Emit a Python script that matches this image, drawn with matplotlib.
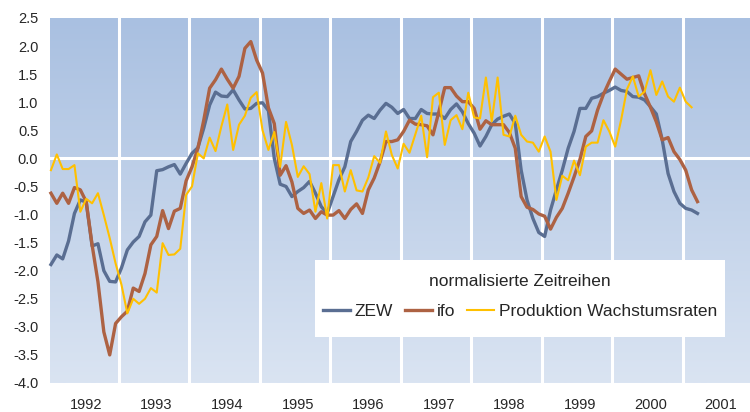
import numpy as np
import matplotlib
matplotlib.use("Agg")
import matplotlib.pyplot as plt
from matplotlib.colors import LinearSegmentedColormap
from matplotlib.patches import Rectangle

plt.rcParams['font.family'] = ['Liberation Sans', 'DejaVu Sans']

# monatliche Werte ab Januar 1992
start_year = 1992

zew = [-1.89, -1.72, -1.79, -1.47, -0.98, -0.74, -0.78, -1.56, -1.52, -2.00,
       -2.19, -2.20, -1.95, -1.63, -1.49, -1.39, -1.13, -1.01, -0.22, -0.20,
       -0.15, -0.11, -0.28, -0.09, 0.09, 0.19, 0.54, 0.95, 1.18, 1.11,
       1.10, 1.22, 1.04, 0.88, 0.89, 0.98, 0.99, 0.85, 0.00, -0.46,
       -0.50, -0.68, -0.59, -0.52, -0.41, -0.62, -0.86, -0.98, -0.68, -0.38,
       -0.15, 0.30, 0.48, 0.68, 0.77, 0.71, 0.86, 0.98, 0.91, 0.80,
       0.87, 0.71, 0.71, 0.87, 0.80, 0.79, 0.79, 0.71, 0.87, 0.97,
       0.83, 0.62, 0.45, 0.22, 0.39, 0.60, 0.70, 0.75, 0.79, 0.62,
       -0.21, -0.74, -1.07, -1.32, -1.39, -0.92, -0.56, -0.21, 0.18, 0.48,
       0.89, 0.89, 1.07, 1.10, 1.16, 1.21, 1.27, 1.21, 1.19, 1.10,
       1.09, 1.04, 0.92, 0.79, 0.33, -0.27, -0.59, -0.80, -0.89, -0.92,
       -0.98]

ifo = [-0.62, -0.80, -0.62, -0.80, -0.52, -0.56, -0.77, -1.54, -2.20, -3.09,
       -3.50, -2.94, -2.82, -2.72, -2.31, -2.37, -2.05, -1.54, -1.39, -0.93,
       -1.25, -0.94, -0.89, -0.40, -0.15, 0.18, 0.68, 1.25, 1.40, 1.59,
       1.41, 1.25, 1.46, 1.96, 2.08, 1.75, 1.52, 0.90, 0.62, -0.30,
       -0.13, -0.42, -0.89, -0.98, -0.92, -1.07, -0.95, -1.01, -1.01, -0.93,
       -1.07, -0.91, -0.81, -0.98, -0.56, -0.35, -0.06, 0.30, 0.30, 0.33,
       0.48, 0.68, 0.61, 0.60, 0.58, 0.42, 0.83, 1.26, 1.26, 1.11,
       1.01, 1.01, 0.89, 0.52, 0.67, 0.60, 0.60, 0.60, 0.46, 0.18,
       -0.68, -0.87, -0.91, -0.99, -1.03, -1.26, -1.05, -0.89, -0.62, -0.33,
       -0.02, 0.39, 0.49, 0.86, 1.14, 1.37, 1.59, 1.50, 1.41, 1.44,
       1.47, 1.15, 0.91, 0.65, 0.33, 0.37, 0.12, -0.02, -0.21, -0.56,
       -0.77]

produktion = [-0.21, 0.07, -0.19, -0.19, -0.12, -0.95, -0.72, -0.80, -0.62, -1.01,
              -1.42, -1.87, -2.25, -2.76, -2.50, -2.59, -2.50, -2.31, -2.39, -1.51,
              -1.72, -1.71, -1.61, -0.65, -0.50, 0.09, 0.00, 0.37, 0.13, 0.57,
              0.96, 0.15, 0.60, 0.76, 1.08, 1.18, 0.50, 0.15, 0.47, -0.15,
              0.65, 0.24, -0.33, -0.14, -0.28, -0.95, -0.44, -1.07, -0.12, -0.12,
              -0.59, -0.21, -0.57, -0.59, -0.34, 0.04, -0.08, 0.48, 0.06, -0.18,
              0.26, 0.10, 0.43, 0.76, 0.02, 1.09, 1.17, 0.24, 0.68, 0.77,
              0.52, 1.17, 0.73, 0.71, 1.44, 0.66, 1.44, 0.42, 0.39, 0.76,
              0.42, 0.30, 0.28, 0.12, 0.39, 0.12, -0.74, -0.31, -0.39, -0.04,
              -0.30, 0.21, 0.28, 0.28, 0.68, 0.48, 0.21, 0.68, 1.23, 1.46,
              1.10, 1.19, 1.57, 1.13, 1.37, 1.10, 1.01, 1.26, 1.01, 0.91]

series_names = ['ZEW', 'ifo', 'Produktion Wachstumsraten']
years = list(range(1992, 2002))
y_ticks = np.arange(-4.0, 2.51, 0.5)


def month_axis(values):
    return start_year + (np.arange(len(values)) + 0.5) / 12


fig = plt.figure(figsize=(7.5, 4.12), dpi=100)
ax = fig.add_axes([48 / 750, 29 / 412, 702 / 750, 365 / 412])

x_min, x_max = 1992.024, 2001.953
y_min, y_max = -4.0, 2.5
ax.set_xlim(x_min, x_max)
ax.set_ylim(y_min, y_max)

# Hintergrund mit Verlauf
cmap = LinearSegmentedColormap.from_list('bg', ['#dae4f2', '#a9c0e1'])
grad = np.linspace(0, 1, 256).reshape(-1, 1)
ax.imshow(grad, extent=[x_min, x_max, y_min, y_max], origin='lower',
          aspect='auto', cmap=cmap, zorder=0)

for y in years[1:]:
    ax.axvline(y, color='white', lw=2.2, zorder=1)
ax.axhline(0, color='white', lw=2.2, zorder=1)

lines = []
lines += ax.plot(month_axis(zew), zew, color='#5a6e92', lw=2.4, zorder=3)
lines += ax.plot(month_axis(ifo), ifo, color='#ad6243', lw=2.4, zorder=4)
lines += ax.plot(month_axis(produktion), produktion, color='#ffc000', lw=1.5, zorder=5)

for s in ax.spines.values():
    s.set_visible(False)

ax.set_yticks(y_ticks)
ax.set_yticklabels([f'{v:.1f}' for v in y_ticks])
ax.set_xticks(years)
ax.set_xticklabels([])
ax.set_xticks([y + 0.54 for y in years], minor=True)
ax.set_xticklabels([str(y) for y in years], minor=True)
ax.tick_params(axis='both', which='both', length=0, labelsize=10.5, colors='#262626')
ax.tick_params(axis='y', pad=7)
ax.tick_params(axis='x', which='minor', pad=11)

# weisser Legendenkasten
box = Rectangle((315 / 750, 75 / 412), 410 / 750, 77 / 412, transform=fig.transFigure,
                facecolor='white', edgecolor='none', zorder=2)
fig.add_artist(box)

leg = fig.legend(lines, series_names, ncol=3, title='normalisierte Zeitreihen',
                 loc='center', bbox_to_anchor=(520 / 750, 1 - 296.5 / 412),
                 frameon=False, fontsize=12.5, title_fontsize=12.5,
                 handlelength=1.55, handletextpad=0.25, columnspacing=0.72,
                 labelspacing=0.9, borderpad=0)
leg.set_zorder(5)
leg.get_title().set_color('#262626')
for t in leg.get_texts():
    t.set_color('#262626')

fig.savefig('out.png', dpi=100)
